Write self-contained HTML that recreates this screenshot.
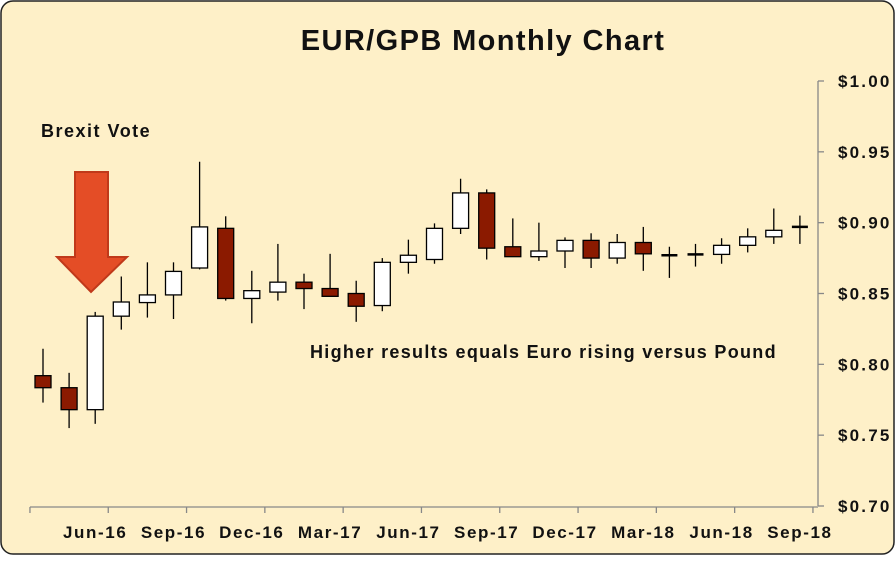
<!DOCTYPE html>
<html><head><meta charset="utf-8"><style>
body{margin:0;background:#fff;}
#wrap{position:relative;width:896px;height:556px;}
svg text{font-family:"Liberation Sans",sans-serif;font-weight:bold;fill:#111;}
</style></head><body>
<div id="wrap">
<svg id="chart" width="896" height="556" viewBox="0 0 896 556">
<rect x="1" y="1" width="893" height="553" rx="12" ry="12" fill="#FEF0C8" stroke="#222" stroke-width="1.5"/>
<text x="483" y="50" text-anchor="middle" font-size="29" letter-spacing="1.4">EUR/GPB Monthly Chart</text>
<text x="41" y="137" font-size="18" letter-spacing="1.5">Brexit Vote</text>
<polygon points="75,172 108,172 108,257 127,257 91,292 57,257 75,257" fill="#E44D26" stroke="#C0391A" stroke-width="2"/>
<text x="310" y="358" font-size="18" letter-spacing="1.3">Higher results equals Euro rising versus Pound</text>
<g id="axes"></g>
<g id="candles"></g>
</svg>
</div>
<script>
const months=["Apr-16","May-16","Jun-16","Jul-16","Aug-16","Sep-16","Oct-16","Nov-16","Dec-16","Jan-17","Feb-17","Mar-17","Apr-17","May-17","Jun-17","Jul-17","Aug-17","Sep-17","Oct-17","Nov-17","Dec-17","Jan-18","Feb-18","Mar-18","Apr-18","May-18","Jun-18","Jul-18","Aug-18","Sep-18"];
const openV=[0.792,0.7835,0.768,0.834,0.8436,0.849,0.868,0.896,0.8465,0.851,0.858,0.8535,0.850,0.8415,0.872,0.874,0.896,0.921,0.883,0.876,0.880,0.8875,0.875,0.886,0.877,0.8776,0.8776,0.884,0.890,0.897];
const highV=[0.811,0.794,0.837,0.862,0.872,0.872,0.943,0.9045,0.866,0.885,0.864,0.878,0.859,0.875,0.888,0.8995,0.931,0.9235,0.903,0.900,0.8896,0.8925,0.892,0.897,0.883,0.885,0.889,0.896,0.910,0.905];
const lowV=[0.773,0.755,0.758,0.8245,0.833,0.832,0.867,0.845,0.829,0.845,0.839,0.848,0.830,0.8375,0.864,0.871,0.892,0.874,0.876,0.873,0.868,0.868,0.871,0.866,0.861,0.869,0.871,0.879,0.885,0.885];
const closeV=[0.7835,0.768,0.834,0.844,0.849,0.8656,0.897,0.8465,0.852,0.858,0.8535,0.848,0.841,0.872,0.877,0.896,0.921,0.882,0.876,0.880,0.8875,0.875,0.886,0.878,0.877,0.8776,0.884,0.890,0.8946,0.897];
const yTicks=[1.00,0.95,0.90,0.85,0.80,0.75,0.70];
const xLabelIdx=[2,5,8,11,14,17,20,23,26,29];

const NS="http://www.w3.org/2000/svg";
const yMin=0.70,yMax=1.00,yTop=81,yBot=506;
const y=v=>yTop+(yMax-v)/(yMax-yMin)*(yBot-yTop);
const step=26.1,x0=43;
const x=i=>x0+i*step;
const axisX=818;
function mk(tag,attrs,parent){const e=document.createElementNS(NS,tag);for(const k in attrs)e.setAttribute(k,attrs[k]);parent.appendChild(e);return e;}
const ax=document.getElementById('axes'),cg=document.getElementById('candles');

let l=mk('line',{x1:axisX,y1:yTop,x2:axisX,y2:yBot,stroke:'#888','stroke-width':1.3},ax);


yTicks.forEach(v=>{
  const t=mk('line',{x1:axisX,y1:y(v),x2:axisX+6,y2:y(v),stroke:'#888','stroke-width':1.3},ax);
  
  
  const tx=mk('text',{x:axisX+20,y:y(v)+6,'font-size':17,'letter-spacing':2.2},ax);
  tx.textContent='$'+v.toFixed(2);
  
  
});
const xl=mk('line',{x1:x(0)-step/2,y1:yBot+1,x2:axisX,y2:yBot+1,stroke:'#888','stroke-width':1.3},ax);


for(let i=0;i<=months.length;i+=3){
  const t=mk('line',{x1:x(i)-step/2,y1:yBot+1,x2:x(i)-step/2,y2:yBot+7,stroke:'#888','stroke-width':1.3},ax);
  
  
}
xLabelIdx.forEach(i=>{
  const tx=mk('text',{x:x(i),y:538,'font-size':17,'text-anchor':'middle','letter-spacing':1.6},ax);
  tx.textContent=months[i];
  
  
});
months.forEach((m,i)=>{
  const g=mk('g',{},cg);
  
  
  const cx=x(i);
  mk('line',{x1:cx,y1:y(highV[i]),x2:cx,y2:y(lowV[i]),stroke:'#000','stroke-width':1.3},g);
  const top=y(Math.max(openV[i],closeV[i])),bot=y(Math.min(openV[i],closeV[i]));
  const bear=closeV[i]<openV[i];
  const h=Math.max(bot-top,1.5);
  if(bot-top<2){mk('line',{x1:cx-8,y1:top,x2:cx+8,y2:top,stroke:'#000','stroke-width':2.5},g);}
  else mk('rect',{x:cx-8,y:top,width:16,height:h,fill:bear?'#8B1A00':'#fff',stroke:'#000','stroke-width':1.3},g);
});
</script>
</body></html>
